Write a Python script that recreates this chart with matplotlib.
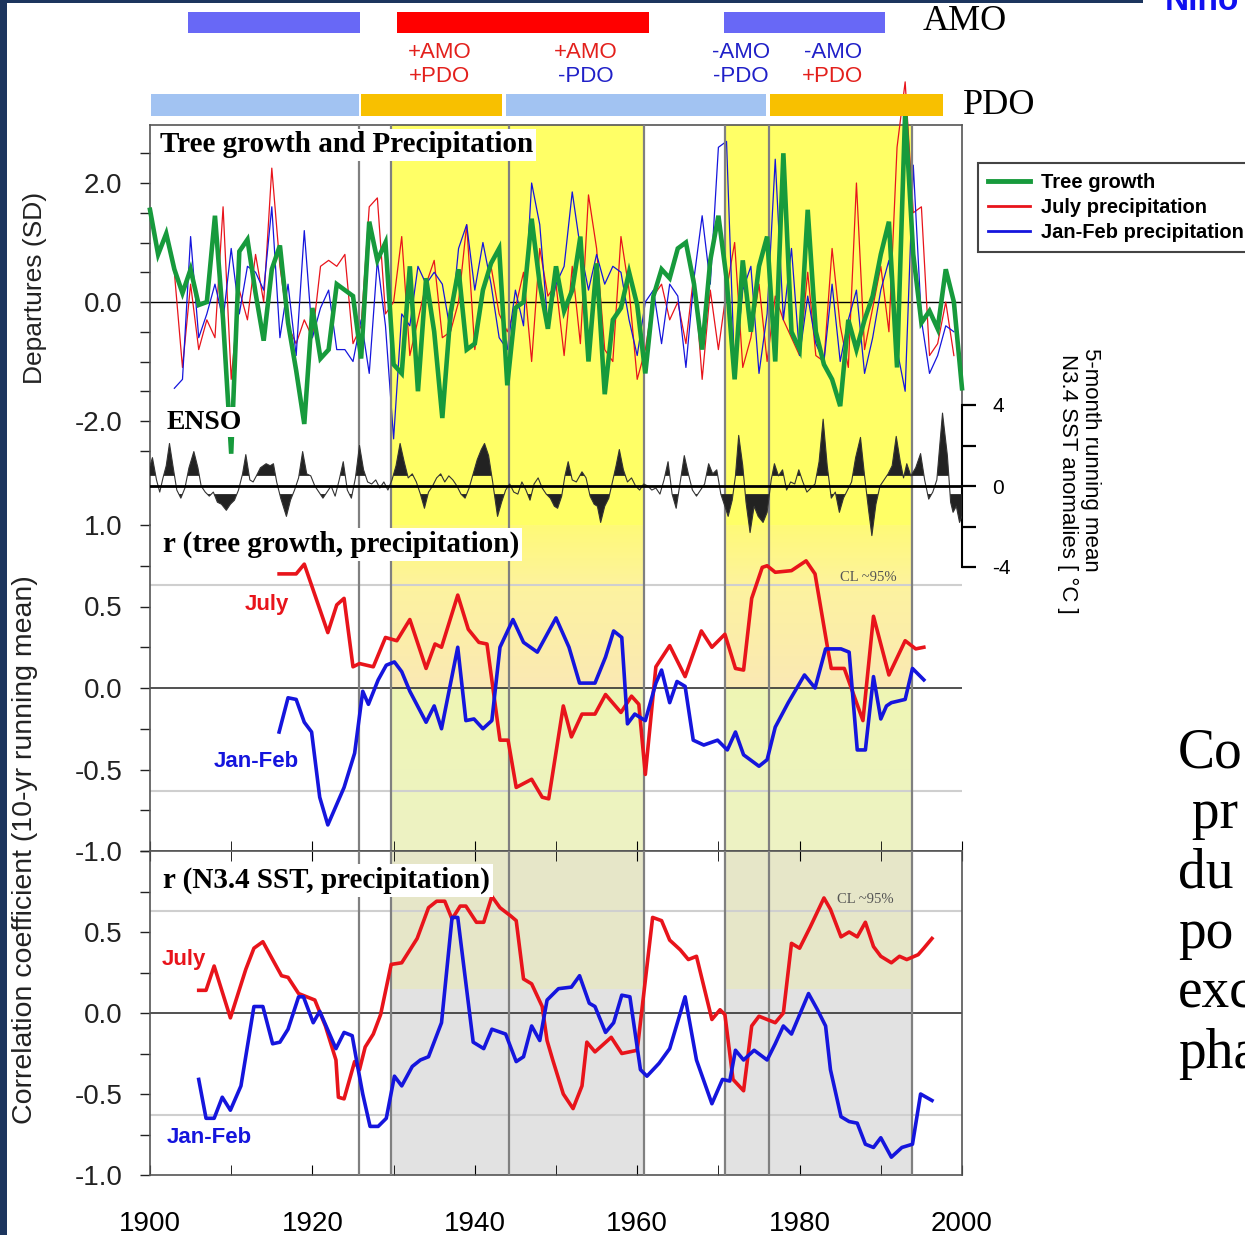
import numpy as np
import matplotlib
matplotlib.use("Agg")
import matplotlib.pyplot as plt
from matplotlib.colors import LinearSegmentedColormap
from matplotlib.lines import Line2D
from matplotlib.patches import Rectangle

plt.rcParams["axes.unicode_minus"] = False
plt.rcParams["font.family"] = ["Liberation Sans", "DejaVu Sans"]

# ---------------- data ----------------
tree_years = list(range(1900, 2001))
tree_growth = [1.55, 0.8, 1.15, 0.55, 0.15, 0.55, -0.05, 0.0, 1.45, -0.3,
               -2.55, 0.85, 1.05, 0.15, -0.65, 0.55, 0.95, -0.35, -1.15, -2.05,
               -0.1, -0.95, -0.8, 0.3, 0.2, 0.1, -0.95, 1.35, 0.7, 1.0,
               -1.05, -1.2, 0.6, -1.5, 0.4, -0.5, -1.95, -0.2, 0.55, -0.8,
               -0.7, 0.2, 0.65, 0.9, -1.4, -0.1, 0.0, 1.4, 0.3, -0.45,
               0.6, -0.15, 0.2, 1.1, -1.0, 0.65, -1.55, -0.3, -0.1, 0.5,
               -0.05, -1.2, 0.1, 0.55, 0.4, 0.9, 1.0, 0.3, -0.8, 0.7,
               1.45, 0.4, -1.3, 0.7, -0.5, 0.6, 1.1, -1.0, 2.5, -0.5,
               -0.8, 1.55, -0.5, -1.05, -1.3, -1.75, -0.3, -0.8, -0.3, 0.1,
               0.8, 1.35, -1.1, 3.2, 0.8, -0.35, -0.15, -0.45, 0.55, 0.0,
               -1.45]

precip_years = list(range(1903, 2000))
july_precip = [0.5, -1.1, 0.3, -0.8, -0.3, -0.6, 1.6, -1.3, 0.2, -0.3,
               0.8, 0.0, 2.25, 0.6, -0.4, -0.7, -0.3, -0.6, 0.6, 0.7,
               0.6, 0.8, -0.7, -0.4, 1.6, 1.75, -0.2, 0.0, 1.1, -0.9,
               -0.3, 0.3, 0.7, -0.6, -0.5, 0.0, 1.3, -0.8, 0.2, 0.6,
               -0.2, -0.5, -0.1, 0.5, -1.0, 0.9, 0.1, 0.3, -0.9, 0.6,
               -0.7, 1.8, 0.9, -0.8, -1.0, 1.1, 0.2, -1.3, -0.8, 0.1,
               0.3, -0.3, 0.0, -0.7, 0.5, -1.3, 0.2, -0.8, 0.2, 1.0,
               -1.1, -0.6, 0.3, -1.0, 0.1, -0.3, -0.6, -0.9, 0.5, -0.9,
               -1.0, 0.9, -0.4, -1.1, 2.0, -0.8, -0.1, 0.6, -0.5, 2.6,
               3.7, 1.5, 1.6, -0.9, -0.7, 0.0, -0.9]
janfeb_precip = [-1.45, -1.3, 1.1, -0.6, -0.2, 0.3, -0.3, 0.9, -0.2, 0.6,
                 0.5, 0.2, 1.6, -0.6, 0.3, -0.9, 1.2, -0.6, -0.1, 0.2,
                 -0.8, -0.8, -1.0, -0.3, -1.2, 0.7, -0.4, -2.3, -0.2, -0.4,
                 0.6, 0.3, 0.5, 0.3, -0.5, 0.9, 1.3, 0.2, 1.0, 0.3,
                 -0.6, -0.8, 0.2, -0.4, 2.0, 1.3, -0.4, 0.3, 0.6, 1.85,
                 0.9, 0.2, 0.8, 0.3, 0.6, 0.5, -0.3, -0.9, 0.0, 0.2,
                 -0.7, 0.3, 0.1, -1.1, 0.4, 1.45, 0.3, 2.6, 2.7, -1.2,
                 0.2, 0.6, -1.2, -0.2, 2.4, -0.3, 0.9, -0.9, 0.1, -0.7,
                 -1.0, 0.3, -1.0, -0.3, 0.2, -1.2, -0.6, 0.2, 0.7, -0.8,
                 -1.5, 2.3, -0.3, -1.2, -0.9, -0.4, -0.5]

enso_years = [1900.0, 1900.3, 1900.8, 1901.2, 1901.6, 1902.0, 1902.4, 1902.9, 1903.3, 1903.8,
              1904.3, 1904.8, 1905.4, 1905.9, 1906.3, 1906.8, 1907.3, 1907.8, 1908.3, 1908.8,
              1909.4, 1909.9, 1910.4, 1910.9, 1911.4, 1911.8, 1912.3, 1912.7, 1913.1, 1913.6,
              1914.3, 1914.8, 1915.2, 1915.6, 1916.1, 1916.8, 1917.3, 1917.8, 1918.3, 1918.8,
              1919.3, 1919.8, 1920.3, 1920.8, 1921.3, 1921.8, 1922.3, 1922.8, 1923.3, 1923.8,
              1924.3, 1924.8, 1925.3, 1925.8, 1926.3, 1926.8, 1927.3, 1927.8, 1928.3, 1928.8,
              1929.3, 1929.8, 1930.3, 1930.8, 1931.3, 1931.8, 1932.3, 1932.8, 1933.3, 1933.8,
              1934.3, 1934.8, 1935.3, 1935.8, 1936.3, 1936.8, 1937.3, 1937.8, 1938.3, 1938.8,
              1939.3, 1939.8, 1940.3, 1940.8, 1941.2, 1941.7, 1942.2, 1942.8, 1943.3, 1943.8,
              1944.3, 1944.8, 1945.3, 1945.8, 1946.3, 1946.8, 1947.3, 1947.8, 1948.3, 1948.8,
              1949.3, 1949.8, 1950.2, 1950.7, 1951.1, 1951.5, 1952.0, 1952.5, 1953.2, 1953.7,
              1954.2, 1954.7, 1955.1, 1955.5, 1956.0, 1956.5, 1957.0, 1957.4, 1957.8, 1958.3,
              1958.8, 1959.3, 1959.8, 1960.3, 1960.8, 1961.3, 1961.8, 1962.3, 1962.8, 1963.3,
              1963.8, 1964.3, 1964.8, 1965.3, 1965.8, 1966.3, 1966.8, 1967.3, 1967.8, 1968.3,
              1968.8, 1969.3, 1969.8, 1970.3, 1970.8, 1971.2, 1971.7, 1972.1, 1972.5, 1973.0,
              1973.4, 1973.9, 1974.4, 1974.9, 1975.5, 1976.0, 1976.5, 1976.9, 1977.4, 1977.9,
              1978.4, 1978.9, 1979.4, 1979.9, 1980.4, 1980.9, 1981.4, 1981.9, 1982.4, 1982.9,
              1983.4, 1983.9, 1984.4, 1984.9, 1985.4, 1985.9, 1986.4, 1986.9, 1987.5, 1988.0,
              1988.5, 1988.9, 1989.4, 1989.9, 1990.4, 1990.9, 1991.4, 1991.9, 1992.4, 1992.8,
              1993.2, 1993.7, 1994.3, 1994.9, 1995.4, 1995.9, 1996.4, 1996.9, 1997.6, 1998.2,
              1998.6, 1998.9, 1999.3, 1999.7, 2000.0]
enso_sst = [1.0, 1.4, 0.3, -0.3, 0.4, 1.0, 2.1, 0.8, -0.2, -0.6,
            -0.1, 0.9, 1.7, 0.9, 0.0, -0.3, -0.5, -0.3, -0.8, -0.9,
            -1.2, -0.9, -0.7, -0.2, 0.6, 1.55, 0.3, 0.2, 0.5, 0.9,
            1.1, 1.0, 1.1, 0.2, -0.6, -1.5, -0.7, -0.2, 0.4, 1.7,
            0.6, 0.5, 0.0, -0.3, -0.6, -0.3, 0.0, -0.5, 0.3, 1.2,
            -0.2, -0.6, 0.4, 2.0, 0.8, 0.2, 0.1, 0.3, -0.1, 0.2,
            -0.2, 0.3, 1.0, 2.1, 1.2, 0.4, 0.6, 0.2, -0.4, -1.1,
            -0.3, 0.0, 0.4, 0.6, 0.2, 0.5, 0.3, 0.0, -0.4, -0.6,
            -0.1, 0.6, 1.3, 1.8, 2.1, 1.5, 0.2, -1.5, -0.8, -0.2,
            0.1, -0.3, -0.4, 0.2, -0.2, -0.7, 0.1, 0.4, -0.1, -0.4,
            -0.6, -1.0, -1.1, -0.5, 0.5, 1.2, 0.3, 0.2, 0.7, 0.4,
            -0.5, -0.9, -1.0, -1.8, -1.0, -0.6, 0.3, 1.0, 1.8, 0.8,
            0.2, 0.4, 0.0, -0.2, 0.1, 0.0, -0.2, -0.1, -0.4, 0.3,
            1.2, -0.4, -1.1, 0.2, 1.5, 0.6, -0.2, -0.5, -0.2, 0.1,
            1.1, 0.6, 0.8, -0.4, -1.0, -1.5, -0.7, 0.5, 2.5, 1.0,
            -0.8, -2.3, -1.0, -1.5, -1.8, -1.3, 0.3, 1.1, 0.5, 0.8,
            -0.2, 0.2, 0.1, 0.8, 0.2, -0.3, -0.1, 0.1, 1.2, 3.3,
            1.0, -0.6, -0.3, -1.3, -0.6, -0.2, 0.2, 1.4, 2.4, 0.5,
            -1.2, -2.45, -0.9, 0.0, 0.3, 0.6, 1.0, 2.45, 1.2, 0.4,
            1.1, 0.5, 0.9, 1.6, 0.3, -0.65, -0.3, 0.3, 3.6, 1.5,
            -0.8, -1.3, -1.0, -1.8, -1.5]

# r(tree growth, precipitation), 10-yr running mean
rt_july_years = [1915.9, 1918.0, 1919.0, 1921.9, 1923.0, 1923.9, 1925.0, 1925.8, 1927.5, 1929.0,
                 1930.4, 1932.0, 1934.0, 1935.1, 1935.9, 1937.9, 1939.2, 1940.5, 1941.5, 1943.1,
                 1944.1, 1945.1, 1947.0, 1948.3, 1949.1, 1950.9, 1951.9, 1953.2, 1954.8, 1956.1,
                 1958.0, 1959.3, 1960.2, 1961.0, 1962.3, 1964.0, 1965.9, 1967.9, 1969.2, 1970.8,
                 1972.1, 1973.1, 1974.1, 1975.4, 1976.0, 1977.0, 1979.0, 1980.8, 1981.9, 1983.5,
                 1983.9, 1985.5, 1987.8, 1989.1, 1991.0, 1993.0, 1994.3, 1995.3]
rt_july = [0.70, 0.70, 0.76, 0.34, 0.51, 0.55, 0.13, 0.15, 0.13, 0.31,
           0.29, 0.42, 0.12, 0.27, 0.25, 0.57, 0.36, 0.28, 0.27, -0.32,
           -0.32, -0.61, -0.56, -0.67, -0.68, -0.11, -0.30, -0.16, -0.16, -0.04,
           -0.15, -0.05, -0.10, -0.53, 0.13, 0.26, 0.07, 0.35, 0.25, 0.33,
           0.12, 0.11, 0.55, 0.74, 0.75, 0.71, 0.72, 0.78, 0.70, 0.23,
           0.12, 0.12, -0.20, 0.44, 0.08, 0.29, 0.24, 0.25]
rt_jf_years = [1915.9, 1917.0, 1918.0, 1919.0, 1919.9, 1920.9, 1921.9, 1923.9, 1925.2, 1926.2,
               1926.9, 1928.1, 1929.1, 1930.1, 1931.0, 1932.0, 1934.0, 1935.0, 1935.9, 1937.9,
               1938.9, 1939.9, 1941.0, 1942.1, 1943.1, 1944.7, 1946.0, 1947.7, 1950.0, 1951.6,
               1952.9, 1954.8, 1956.1, 1957.1, 1958.1, 1958.8, 1959.7, 1961.0, 1962.3, 1963.0,
               1964.0, 1964.9, 1965.9, 1966.9, 1968.2, 1969.9, 1971.1, 1972.1, 1973.1, 1975.0,
               1976.0, 1977.0, 1978.6, 1980.6, 1981.9, 1983.2, 1985.1, 1986.1, 1987.1, 1988.1,
               1989.1, 1990.0, 1990.7, 1991.3, 1993.0, 1993.9, 1995.3]
rt_jf = [-0.27, -0.06, -0.07, -0.21, -0.27, -0.67, -0.84, -0.61, -0.40, -0.02,
         -0.10, 0.05, 0.14, 0.16, 0.10, -0.02, -0.21, -0.11, -0.25, 0.25,
         -0.20, -0.19, -0.25, -0.20, 0.25, 0.42, 0.28, 0.22, 0.43, 0.25,
         0.03, 0.03, 0.19, 0.35, 0.31, -0.22, -0.16, -0.20, 0.03, 0.11,
         -0.09, 0.04, 0.01, -0.32, -0.35, -0.32, -0.38, -0.27, -0.41, -0.48,
         -0.44, -0.24, -0.09, 0.08, 0.00, 0.24, 0.24, 0.22, -0.38, -0.38,
         0.07, -0.19, -0.11, -0.09, -0.07, 0.12, 0.05]

# r(N3.4 SST, precipitation), 10-yr running mean
rs_july_years = [1906.0, 1906.9, 1907.9, 1909.9, 1911.8, 1912.8, 1913.9, 1915.1, 1916.2, 1917.0,
                 1918.3, 1920.3, 1921.6, 1922.9, 1923.2, 1923.9, 1925.2, 1925.8, 1926.5, 1927.5,
                 1928.4, 1929.7, 1931.0, 1932.9, 1934.3, 1935.3, 1936.3, 1937.2, 1938.2, 1938.9,
                 1940.2, 1941.1, 1942.1, 1943.1, 1944.4, 1945.1, 1946.0, 1947.0, 1948.3, 1948.9,
                 1949.6, 1950.9, 1952.1, 1953.2, 1953.8, 1954.8, 1956.8, 1958.1, 1960.0, 1961.9,
                 1963.0, 1964.0, 1965.3, 1966.3, 1967.3, 1969.2, 1970.2, 1970.8, 1971.8, 1973.1,
                 1974.1, 1975.0, 1976.0, 1977.0, 1978.0, 1979.0, 1980.0, 1981.3, 1983.0, 1983.8,
                 1985.1, 1986.1, 1987.1, 1988.1, 1989.1, 1990.0, 1991.3, 1992.3, 1993.2, 1994.6,
                 1995.3, 1996.3]
rs_july = [0.14, 0.14, 0.29, -0.03, 0.27, 0.40, 0.44, 0.33, 0.23, 0.22,
           0.12, 0.08, -0.08, -0.29, -0.52, -0.53, -0.30, -0.35, -0.21, -0.13,
           -0.01, 0.30, 0.31, 0.46, 0.65, 0.69, 0.69, 0.58, 0.66, 0.66,
           0.56, 0.56, 0.72, 0.65, 0.60, 0.57, 0.21, 0.18, 0.04, -0.17,
           -0.29, -0.50, -0.59, -0.45, -0.18, -0.24, -0.15, -0.25, -0.23, 0.59,
           0.57, 0.45, 0.39, 0.33, 0.35, -0.04, 0.02, -0.01, -0.41, -0.48,
           -0.08, -0.02, -0.04, -0.06, 0.00, 0.43, 0.40, 0.53, 0.71, 0.64,
           0.47, 0.50, 0.47, 0.56, 0.41, 0.35, 0.31, 0.35, 0.33, 0.36,
           0.40, 0.46]
rs_jf_years = [1906.0, 1906.9, 1907.9, 1908.9, 1909.9, 1911.2, 1912.8, 1913.9, 1915.1, 1916.0,
               1917.0, 1918.3, 1918.9, 1920.1, 1920.9, 1922.9, 1923.9, 1924.9, 1925.5, 1926.2,
               1927.1, 1928.1, 1929.1, 1930.1, 1931.0, 1932.3, 1933.3, 1934.3, 1935.9, 1937.2,
               1937.9, 1939.8, 1941.1, 1942.1, 1943.8, 1945.1, 1946.0, 1947.0, 1948.0, 1948.9,
               1950.3, 1951.9, 1952.9, 1954.1, 1954.8, 1956.1, 1957.1, 1958.1, 1959.1, 1960.4,
               1961.2, 1962.7, 1964.0, 1965.9, 1967.3, 1969.2, 1970.5, 1971.4, 1972.1, 1973.1,
               1974.4, 1976.0, 1977.0, 1978.0, 1979.0, 1981.1, 1982.2, 1983.2, 1983.8, 1985.1,
               1986.1, 1987.1, 1988.1, 1989.1, 1990.0, 1991.3, 1992.6, 1993.9, 1994.9, 1996.3]
rs_jf = [-0.41, -0.65, -0.65, -0.52, -0.60, -0.45, 0.04, 0.04, -0.19, -0.18,
         -0.10, 0.10, 0.10, -0.06, 0.01, -0.22, -0.12, -0.14, -0.31, -0.50,
         -0.70, -0.70, -0.65, -0.39, -0.45, -0.33, -0.29, -0.27, -0.06, 0.59,
         0.59, -0.18, -0.22, -0.10, -0.13, -0.30, -0.27, -0.08, -0.17, 0.08,
         0.15, 0.16, 0.23, 0.06, 0.04, -0.12, -0.06, 0.11, 0.10, -0.35,
         -0.39, -0.31, -0.22, 0.10, -0.29, -0.56, -0.41, -0.42, -0.23, -0.29,
         -0.23, -0.29, -0.19, -0.08, -0.13, 0.12, 0.02, -0.08, -0.35, -0.64,
         -0.67, -0.68, -0.81, -0.83, -0.77, -0.89, -0.83, -0.81, -0.50, -0.54]

# climate regimes
amo_start = [1904.7, 1930.4, 1970.7]
amo_end = [1925.9, 1961.5, 1990.5]
amo_sign = ["-", "+", "-"]
pdo_start = [1900.1, 1926.0, 1943.9, 1976.4]
pdo_end = [1925.7, 1943.4, 1975.9, 1997.6]
pdo_sign = ["-", "+", "-", "+"]
phase_years = [1935.7, 1953.7, 1972.8, 1984.1]
phase_amo = ["+AMO", "+AMO", "-AMO", "-AMO"]
phase_pdo = ["+PDO", "-PDO", "-PDO", "+PDO"]
regime_breaks = [1925.7, 1929.7, 1944.2, 1960.8, 1970.8, 1976.2, 1993.9]
shaded_start = [1929.7, 1970.8]
shaded_end = [1960.8, 1993.9]
cl95 = 0.63

# ---------------- styling ----------------
W, H = 1245, 1235
GREEN = "#179A3C"
RED = "#E8141B"
BLUE = "#1515DD"
SERIF = ["Liberation Serif", "DejaVu Serif"]
SANS = ["Liberation Sans", "DejaVu Sans"]


def px_rect(x0, y0, x1, y1):
    return [x0 / W, 1 - y1 / H, (x1 - x0) / W, (y1 - y0) / H]


fig = plt.figure(figsize=(W / 100, H / 100), dpi=100)
fig.patch.set_facecolor("white")

ax_mid = fig.add_axes(px_rect(150, 525, 962, 851))
ax_bot = fig.add_axes(px_rect(150, 851, 962, 1175))
ax_top = fig.add_axes(px_rect(150, 125, 962, 525))
ax_enso = fig.add_axes(px_rect(150, 405, 962, 567))
ax_bar = fig.add_axes(px_rect(150, 0, 962, 125))

for ax in (ax_top, ax_mid, ax_bot, ax_enso):
    ax.set_xlim(1900, 2000)

# top panel
ax_top.set_ylim(-3.748, 2.975)
ax_top.patch.set_alpha(0)
for s, e in zip(shaded_start, shaded_end):
    ax_top.axvspan(s, e, color="#FFFF66", zorder=0, lw=0)
ax_top.axhline(0, color="black", lw=1.0, zorder=2)
ax_top.plot(precip_years, july_precip, color=RED, lw=0.9, zorder=3, clip_on=False)
ax_top.plot(precip_years, janfeb_precip, color=BLUE, lw=0.9, zorder=3, clip_on=False)
ax_top.plot(tree_years, tree_growth, color=GREEN, lw=3.3, zorder=4, clip_on=False,
            solid_joinstyle="miter")
ax_top.spines["bottom"].set_visible(False)
ax_top.spines["right"].set_bounds(-1.73, 2.975)
ax_top.set_yticks([-2, 0, 2])
ax_top.set_yticklabels(["-2.0", "0.0", "2.0"])
ax_top.set_yticks([-2.5, -1.5, -1, -0.5, 0.5, 1, 1.5, 2.5], minor=True)
ax_top.tick_params(axis="x", which="both", bottom=False, labelbottom=False)
ax_top.text(1901.2, 2.64, "Tree growth and Precipitation", family=SERIF, weight="bold",
            fontsize=21, va="center", ha="left", zorder=6,
            bbox=dict(facecolor="white", edgecolor="none", pad=2))
ax_top.text(1902.0, -2.02, "ENSO", family=SERIF, weight="bold", fontsize=20,
            va="center", ha="left", zorder=6,
            bbox=dict(facecolor="white", edgecolor="none", pad=2))

# middle panel shading
ax_mid.set_ylim(-1, 1)
cm_mid = LinearSegmentedColormap.from_list(
    "mid", [(0.0, "#EDF2C4"), (0.499, "#EFF6B4"), (0.5, "#FAE9B4"),
            (0.8, "#FDF2A0"), (1.0, "#FFFA78")])
grad = np.linspace(1, -1, 256)[:, None]
for s, e in zip(shaded_start, shaded_end):
    ax_mid.imshow(grad, cmap=cm_mid, vmin=-1, vmax=1, extent=(s, e, -1, 1),
                  aspect="auto", origin="upper", zorder=0, interpolation="bilinear")
ax_mid.set_xlim(1900, 2000)
ax_mid.set_ylim(-1, 1)

# bottom panel shading
ax_bot.set_ylim(-1, 1)
for s, e in zip(shaded_start, shaded_end):
    ax_bot.fill_between([s, e], 0.15, 1, color="#E6E6C8", lw=0, zorder=0)
    ax_bot.fill_between([s, e], -1, 0.15, color="#E2E2E2", lw=0, zorder=0)

for ax, rj_y, rj, rb_y, rb in ((ax_mid, rt_july_years, rt_july, rt_jf_years, rt_jf),
                               (ax_bot, rs_july_years, rs_july, rs_jf_years, rs_jf)):
    for c in (cl95, -cl95):
        ax.axhline(c, color="#CFCFCF", lw=1.5, zorder=1)
    ax.axhline(0, color="#333333", lw=1.2, zorder=2)
    ax.plot(rj_y, rj, color=RED, lw=2.6, zorder=4)
    ax.plot(rb_y, rb, color=BLUE, lw=2.6, zorder=4)
    ax.set_yticks([-1, -0.5, 0, 0.5, 1])
    ax.set_yticks([-0.75, -0.25, 0.25, 0.75], minor=True)
    ax.set_xticks(np.arange(1900, 2001, 20))
    ax.set_xticks(np.arange(1910, 2000, 20), minor=True)

ax_mid.set_yticklabels(["-1.0", "-0.5", "0.0", "0.5", "1.0"])
ax_bot.set_yticklabels(["-1.0", "-0.5", "0.0", "0.5", ""])
ax_mid.spines["top"].set_visible(False)
ax_mid.spines["right"].set_visible(False)
ax_mid.tick_params(axis="x", which="both", direction="in", length=7, labelbottom=False)
ax_bot.tick_params(axis="x", which="both", direction="in", length=7, top=True,
                   labelsize=20, pad=26)
ax_bot.set_xticklabels([str(y) for y in range(1900, 2001, 20)])

ax_mid.text(1901.6, 0.88, "r (tree growth, precipitation)", family=SERIF, weight="bold",
            fontsize=21, va="center", ha="left", zorder=6,
            bbox=dict(facecolor="white", edgecolor="none", pad=2))
ax_bot.text(1901.6, 0.82, "r (N3.4 SST, precipitation)", family=SERIF, weight="bold",
            fontsize=21, va="center", ha="left", zorder=6,
            bbox=dict(facecolor="white", edgecolor="none", pad=2))
ax_mid.text(1911.7, 0.51, "July", color=RED, fontsize=16, weight="bold", va="center")
ax_mid.text(1907.8, -0.45, "Jan-Feb", color=BLUE, fontsize=16, weight="bold", va="center")
ax_bot.text(1901.5, 0.33, "July", color=RED, fontsize=16, weight="bold", va="center")
ax_bot.text(1902.1, -0.77, "Jan-Feb", color=BLUE, fontsize=16, weight="bold", va="center")
ax_mid.text(1985.0, 0.675, "CL ~95%", family=SERIF, fontsize=10.5, color="#555555",
            va="center", zorder=5)
ax_bot.text(1984.6, 0.70, "CL ~95%", family=SERIF, fontsize=10.5, color="#555555",
            va="center", zorder=5)

for ax in (ax_top, ax_mid, ax_bot):
    for b in regime_breaks:
        ax.axvline(b, color="#808080", lw=1.6, zorder=3)
    ax.tick_params(axis="y", which="both", direction="out", length=7, width=1,
                   labelsize=20, pad=13, colors="#222222")
    for sp in ax.spines.values():
        sp.set_color("#555555")
        sp.set_linewidth(1.2)

# ENSO
ax_enso.set_ylim(-4, 4)
ax_enso.patch.set_alpha(0)
ev = np.array(enso_sst)
ey = np.array(enso_years)
ax_enso.fill_between(ey, ev, 0.5, where=ev > 0.5, interpolate=True, color="#222222",
                     lw=0, zorder=3)
ax_enso.fill_between(ey, ev, -0.4, where=ev < -0.4, interpolate=True, color="#222222",
                     lw=0, zorder=3)
ax_enso.plot(ey, ev, color="#333333", lw=0.8, zorder=4)
ax_enso.axhline(0, color="black", lw=2.0, zorder=5)
for k in ("left", "top", "bottom"):
    ax_enso.spines[k].set_visible(False)
ax_enso.spines["right"].set_linewidth(1.5)
ax_enso.yaxis.tick_right()
ax_enso.set_yticks([-4, 0, 4])
ax_enso.set_yticklabels(["-4", "0", "4"])
ax_enso.set_yticks([-2, 2], minor=True)
ax_enso.tick_params(axis="y", which="both", direction="out", length=10, width=1.6,
                    labelsize=15, pad=12)
ax_enso.tick_params(axis="x", which="both", bottom=False, labelbottom=False)

# regime bars
ax_bar.set_xlim(1900, 2000)
ax_bar.set_ylim(125, 0)
ax_bar.axis("off")
amo_col = {"+": "#FF0000", "-": "#6868F6"}
pdo_col = {"+": "#F8C000", "-": "#A2C3F2"}
txt_col = {"+": "#E3201C", "-": "#2020C8"}
for s, e, g in zip(amo_start, amo_end, amo_sign):
    ax_bar.broken_barh([(s, e - s)], (12, 21), facecolor=amo_col[g])
for s, e, g in zip(pdo_start, pdo_end, pdo_sign):
    ax_bar.broken_barh([(s, e - s)], (94, 22), facecolor=pdo_col[g])
for yr, a, p in zip(phase_years, phase_amo, phase_pdo):
    ax_bar.text(yr, 52, a, color=txt_col[a[0]], fontsize=16, ha="center", va="center")
    ax_bar.text(yr, 76, p, color=txt_col[p[0]], fontsize=16, ha="center", va="center")
ax_bar.text(1995.1, 22, "AMO", family=SERIF, fontsize=26, ha="left", va="center")
ax_bar.text(2000.1, 105, "PDO", family=SERIF, fontsize=26, ha="left", va="center")

# legend
handles = [Line2D([], [], color=GREEN, lw=3.5),
           Line2D([], [], color=RED, lw=2.0),
           Line2D([], [], color=BLUE, lw=2.0)]
leg = fig.legend(handles, ["Tree growth", "July precipitation", "Jan-Feb precipitation"],
                 loc="upper left", bbox_to_anchor=(978 / W, 1 - 163 / H),
                 frameon=True, fancybox=False, edgecolor="#444444", framealpha=1,
                 borderaxespad=0, prop=dict(family=SANS, weight="bold", size=14.5),
                 handlelength=2.1, handletextpad=0.55, labelspacing=0.3, borderpad=0.5)
leg.get_frame().set_linewidth(1.5)

# axis labels
fig.text(35 / W, 1 - 288 / H, "Departures (SD)", rotation=90, fontsize=19,
         ha="center", va="center", color="#222222")
fig.text(25 / W, 1 - 850 / H, "Correlation coefficient (10-yr running mean)",
         rotation=90, fontsize=20.5, ha="center", va="center", color="#222222")
fig.text(1091 / W, 1 - 460 / H, "5-month running mean", rotation=270, fontsize=16,
         ha="center", va="center")
fig.text(1068 / W, 1 - 484 / H, "N3.4 SST anomalies [ °C ]", rotation=270, fontsize=16,
         ha="center", va="center")

# slide decorations (partly cut by the slide edge, as in the source)
fig.patches.append(Rectangle((0, 0), 7 / W, 1, transform=fig.transFigure,
                             facecolor="#1C355E", edgecolor="none", zorder=10))
fig.patches.append(Rectangle((0, 1 - 2.5 / H), 1143 / W, 2.5 / H, transform=fig.transFigure,
                             facecolor="#1C355E", edgecolor="none", zorder=10))
fig.text(1165 / W, 1 - 10 / H, "Nino", color="#1010F0", fontsize=24, weight="bold",
         va="baseline", ha="left")
side_words = ["Co", " pr", "du", "po", "exc", "pha"]
for i, w in enumerate(side_words):
    fig.text(1178 / W, 1 - (768 + 60 * i) / H, w, family=SERIF, fontsize=40,
             va="baseline", ha="left")

fig.savefig("out.png", dpi=100)
